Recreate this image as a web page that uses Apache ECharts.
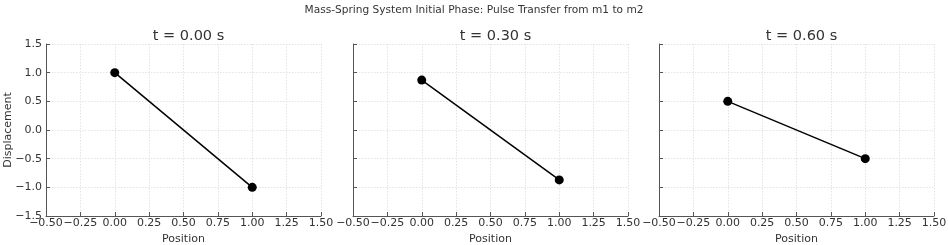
<!DOCTYPE html>
<html><head><meta charset="utf-8">
<script src="https://cdn.jsdelivr.net/npm/echarts@6/dist/echarts.min.js"></script>
<style>html,body{margin:0;padding:0;background:#fff}#c{width:948px;height:245px}</style>
</head><body><div id="c"></div>
<script>
const mainTitle = "Mass-Spring System Initial Phase: Pulse Transfer from m1 to m2";
const panelTitles = ["t = 0.00 s", "t = 0.30 s", "t = 0.60 s"];
const positions = [0, 1];
const disp0 = [1.0, -1.0];
const disp1 = [0.87, -0.87];
const disp2 = [0.5, -0.5];
const panels = [disp0, disp1, disp2];
const xLabelName = "Position";
const yLabelName = "Displacement";

const FONT = "DejaVu Sans";
const lefts = [46, 353, 659];
const gw = 275, gtop = 44, gh = 172;
const minus = v => String(v).replace('-', '\u2212');

const chart = echarts.init(document.getElementById('c'), null, {renderer: 'canvas'});
const grids = [], xAxes = [], yAxes = [], series = [], titles = [];
titles.push({text: mainTitle, left: 'center', top: 0, textStyle: {fontFamily: FONT, fontSize: 10.6, fontWeight: 'normal', color: '#333'}});
panels.forEach((d, i) => {
  grids.push({left: lefts[i], top: gtop, width: gw, height: gh, outerBoundsMode: 'none', containLabel: false});
  titles.push({text: panelTitles[i], left: lefts[i] + gw / 2, textAlign: 'center', top: 24, textStyle: {fontFamily: FONT, fontSize: 14.5, fontWeight: 'normal', color: '#333'}});
  xAxes.push({
    type: 'value', gridIndex: i, min: -0.5, max: 1.5, interval: 0.25,
    name: xLabelName, nameLocation: 'middle', nameGap: 18,
    nameTextStyle: {fontFamily: FONT, fontSize: 11, color: '#333'},
    axisLine: {show: true, onZero: false, lineStyle: {color: '#555', width: 1}},
    axisTick: {show: true, inside: true, length: 4, lineStyle: {color: '#555'}},
    axisLabel: {fontFamily: FONT, fontSize: 11, color: '#333', margin: 2, formatter: v => minus(v.toFixed(2))},
    splitLine: {show: true, lineStyle: {color: '#dcdcdc', type: [1.5, 1.5], width: 0.8}}
  });
  yAxes.push({
    type: 'value', gridIndex: i, min: -1.5, max: 1.5, interval: 0.5,
    name: i === 0 ? yLabelName : '', nameLocation: 'middle', nameGap: 32, nameMoveOverlap: false,
    nameTextStyle: {fontFamily: FONT, fontSize: 11, color: '#333'},
    axisLine: {show: true, onZero: false, lineStyle: {color: '#555', width: 1}},
    axisTick: {show: true, inside: true, length: 4, lineStyle: {color: '#555'}},
    axisLabel: {show: i === 0, fontFamily: FONT, fontSize: 11, color: '#333', margin: 4, formatter: v => minus(v.toFixed(1))},
    splitLine: {show: true, lineStyle: {color: '#dcdcdc', type: [1.5, 1.5], width: 0.8}}
  });
  series.push({
    type: 'line', xAxisIndex: i, yAxisIndex: i,
    data: positions.map((p, k) => [p, d[k]]),
    symbol: 'circle', symbolSize: 9, showSymbol: true,
    itemStyle: {color: '#000'}, lineStyle: {color: '#000', width: 1.5},
    animation: false
  });
});
chart.setOption({animation: false, title: titles, grid: grids, xAxis: xAxes, yAxis: yAxes, series: series});
</script></body></html>
